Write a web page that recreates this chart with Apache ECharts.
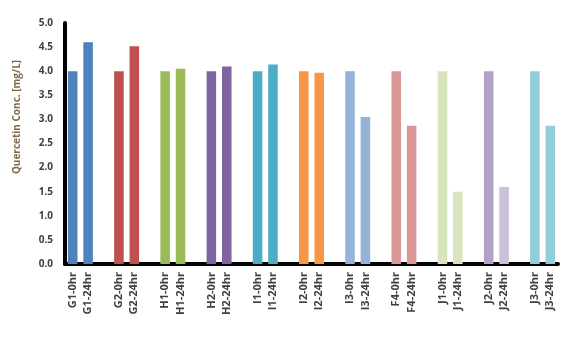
<!DOCTYPE html>
<html><head><meta charset="utf-8">
<script src="https://cdn.jsdelivr.net/npm/echarts@6/dist/echarts.min.js"></script>
<style>html,body{margin:0;padding:0;background:#fff}#c{width:568px;height:350px}</style>
</head><body><div id="c"></div>
<script>
const categories = ['G1-0hr','G1-24hr','','G2-0hr','G2-24hr','','H1-0hr','H1-24hr','','H2-0hr','H2-24hr','','I1-0hr','I1-24hr','','I2-0hr','I2-24hr','','I3-0hr','I3-24hr','','F4-0hr','F4-24hr','','J1-0hr','J1-24hr','','J2-0hr','J2-24hr','','J3-0hr','J3-24hr'];
const values = [4.0,4.6,null,4.0,4.52,null,4.0,4.05,null,4.0,4.1,null,4.0,4.14,null,4.0,3.97,null,4.0,3.05,null,4.0,2.87,null,4.0,1.5,null,4.0,1.6,null,4.0,2.87];
const barColors = ['#4F81BD','#4F81BD',null,'#C0504D','#C0504D',null,'#9BBB59','#9BBB59',null,'#8064A2','#8064A2',null,'#4BACC6','#4BACC6',null,'#F79646','#F79646',null,'#95B3D7','#95B3D7',null,'#DA9694','#DA9694',null,'#D8E4BC','#D8E4BC',null,'#B1A0C7','#CCC0DA',null,'#92CDDC','#92CDDC'];
const yTicks = [0,0.5,1,1.5,2,2.5,3,3.5,4,4.5,5];
const yTitle = 'Quercetin Conc. [mg/L]';

const chart = echarts.init(document.getElementById('c'), null, {renderer:'canvas'});
chart.setOption({
  animation:false,
  grid:{left:65,right:10,top:23,bottom:86},
  xAxis:{type:'category',data:categories,
    axisLine:{show:true,lineStyle:{color:'#000',width:4}},
    axisTick:{show:false},
    axisLabel:{interval:0,rotate:90,color:'#404040',fontWeight:'bold',fontSize:11,fontFamily:'Open Sans, DejaVu Sans, sans-serif',margin:8}
  },
  yAxis:{type:'value',min:yTicks[0],max:yTicks[yTicks.length-1],interval:0.5,
    axisLine:{show:true,lineStyle:{color:'#000',width:4}},
    axisTick:{show:false},
    splitLine:{show:false},
    axisLabel:{color:'#404040',fontWeight:'bold',fontSize:10,fontFamily:'Open Sans, DejaVu Sans, sans-serif',margin:12,formatter:v=>v.toFixed(1)}
  },
  graphic:[{type:'text',x:17,y:117,rotation:Math.PI/2,
    style:{text:yTitle,fill:'#7F6A4A',font:'bold 10px "Open Sans", "DejaVu Sans", sans-serif',align:'center',verticalAlign:'middle'}}],
  series:[{type:'bar',barCategoryGap:'38%',
    data:values.map((v,i)=>({value:v,itemStyle:{color:barColors[i]||'#000'}}))}]
});
</script></body></html>
